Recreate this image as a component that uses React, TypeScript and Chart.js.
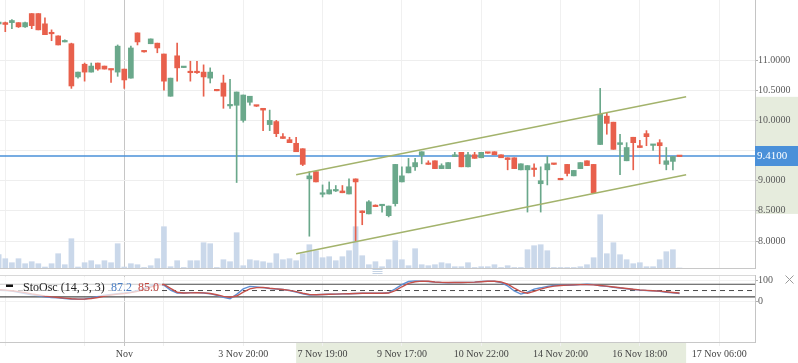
import React, { useEffect, useRef } from 'react';
import { Chart, registerables } from 'chart.js';

Chart.register(...registerables);

// ---------- data (candle index 0 is the partly hidden leftmost candle) ----------
const opens = [
  11.60, 11.62, 11.62, 11.62, 11.55, 11.77, 11.77, 11.60, 11.455, 11.40,
  11.30, 11.27, 10.72, 10.93, 10.80, 10.95, 10.90, 10.85, 10.80, 10.85,
  10.70, 11.45, 11.15, 11.27, 11.28, 11.10, 10.40, 11.07, 10.875, 10.80,
  10.80, 10.80, 10.70, 10.50, 10.62, 10.24, 10.25, 10.00, 10.30, 10.25,
  10.20, 9.93, 9.98, 9.73, 9.68, 9.62, 9.53, 9.03, 9.15, 8.775,
  8.78, 8.83, 8.83, 8.78, 9.03, 8.50, 8.45, 8.585, 8.585, 8.42,
  8.62, 8.98, 9.13, 9.23, 9.42, 9.285, 9.33, 9.20, 9.20, 9.40,
  9.47, 9.23, 9.43, 9.38, 9.467, 9.48, 9.43, 9.38, 9.38, 9.18,
  9.18, 9.20, 8.95, 9.18, 9.285, 9.035, 9.27, 9.08, 9.20, 9.33,
  9.27, 9.60, 10.07, 9.97, 9.60, 9.33, 9.72, 9.58, 9.78, 9.585,
  9.63, 9.27, 9.32, 9.41,
];
const highs = [
  11.66, 11.63, 11.67, 11.62, 11.63, 11.77, 11.77, 11.70, 11.50, 11.40,
  11.335, 11.28, 10.80, 10.95, 10.95, 10.95, 10.90, 10.85, 11.25, 10.85,
  11.23, 11.45, 11.15, 11.35, 11.28, 11.10, 10.70, 11.28, 10.885, 10.98,
  10.98, 10.92, 10.87, 10.50, 10.75, 10.68, 10.47, 10.42, 10.40, 10.25,
  10.20, 10.17, 10.00, 9.78, 9.72, 9.72, 9.53, 9.15, 9.15, 8.93,
  8.98, 8.92, 8.92, 9.03, 9.03, 8.50, 8.67, 8.60, 8.60, 8.58,
  9.27, 9.23, 9.37, 9.37, 9.48, 9.33, 9.33, 9.28, 9.30, 9.47,
  9.47, 9.47, 9.47, 9.47, 9.467, 9.48, 9.43, 9.38, 9.38, 9.28,
  9.25, 9.28, 9.23, 9.40, 9.285, 9.035, 9.27, 9.17, 9.30, 9.33,
  9.27, 10.53, 10.12, 9.97, 9.77, 9.63, 9.72, 9.67, 9.83, 9.60,
  9.68, 9.55, 9.40, 9.41,
];
const lows = [
  11.55, 11.47, 11.52, 11.54, 11.54, 11.52, 11.50, 11.42, 11.32, 11.25,
  11.30, 10.53, 10.70, 10.65, 10.80, 10.83, 10.85, 10.63, 10.73, 10.53,
  10.70, 11.25, 11.13, 11.27, 11.12, 10.50, 10.40, 10.65, 10.875, 10.65,
  10.78, 10.40, 10.62, 10.49, 10.20, 10.20, 8.97, 9.97, 10.25, 10.23,
  9.83, 9.83, 9.73, 9.70, 9.63, 9.48, 9.25, 8.08, 8.98, 8.73,
  8.78, 8.82, 8.80, 8.78, 8.00, 8.27, 8.45, 8.57, 8.48, 8.40,
  8.58, 8.98, 9.13, 9.17, 9.28, 9.27, 9.20, 9.20, 9.20, 9.40,
  9.23, 9.23, 9.37, 9.38, 9.455, 9.43, 9.38, 9.18, 9.20, 9.18,
  8.48, 9.07, 8.48, 8.93, 9.27, 9.015, 9.08, 9.08, 9.20, 9.25,
  8.80, 9.60, 9.77, 9.52, 9.10, 9.33, 9.18, 9.55, 9.58, 9.50,
  9.28, 9.18, 9.18, 9.40,
];
const closes = [
  11.63, 11.59, 11.655, 11.55, 11.62, 11.57, 11.50, 11.42, 11.435, 11.25,
  11.32, 10.57, 10.80, 10.80, 10.90, 10.85, 10.85, 10.835, 11.23, 10.67,
  11.20, 11.30, 11.135, 11.35, 11.20, 10.65, 10.70, 10.87, 10.885, 10.79,
  10.79, 10.72, 10.80, 10.49, 10.40, 10.25, 10.47, 10.42, 10.40, 10.235,
  10.17, 10.00, 9.78, 9.70, 9.63, 9.48, 9.27, 9.08, 8.98, 8.785,
  8.85, 8.835, 8.80, 8.90, 8.98, 8.47, 8.65, 8.57, 8.60, 8.58,
  9.27, 9.08, 9.23, 9.30, 9.48, 9.27, 9.20, 9.25, 9.30, 9.43,
  9.23, 9.43, 9.37, 9.47, 9.455, 9.43, 9.38, 9.35, 9.20, 9.28,
  9.25, 9.185, 9.00, 9.28, 9.27, 9.015, 9.12, 9.17, 9.30, 9.25,
  8.80, 10.10, 9.95, 9.52, 9.63, 9.55, 9.63, 9.55, 9.73, 9.60,
  9.58, 9.33, 9.40, 9.40,
];
const volumes = [
  13.3, 9.3, 5.3, 9.3, 4.3, 6.3, 4.3, 1.0, 4.3, 14.3,
  3.3, 29.3, 1.0, 5.3, 7.3, 3.3, 7.3, 5.3, 24.3, 1.0,
  4.3, 3.3, 0.5, 2.3, 9.3, 41.3, 1.3, 7.3, 0.5, 7.3,
  7.3, 25.3, 24.3, 0.5, 8.3, 6.3, 35.3, 2.3, 8.3, 7.3,
  6.3, 5.0, 14.3, 8.3, 9.3, 7.3, 14.3, 23.3, 17.3, 10.3,
  11.3, 7.3, 11.3, 17.3, 41.3, 12.3, 3.3, 6.3, 1.3, 8.3,
  27.3, 8.3, 2.3, 19.3, 3.3, 2.3, 3.3, 5.3, 4.3, 1.3,
  1.3, 5.3, 0.5, 1.3, 1.3, 3.3, 0.5, 2.3, 0.5, 0.5,
  18.3, 22.3, 23.3, 17.3, 0.5, 0.5, 0.5, 0.5, 1.3, 3.3,
  10.3, 53.3, 14.3, 25.3, 13.3, 8.3, 4.3, 5.3, 1.3, 1.3,
  8.3, 16.3, 18.3, 0,
];
const stochK = [
  52, 50, 47, 42, 36, 30, 25, 20, 17, 15,
  12, 10, 9, 10, 15, 22, 28, 32, 35, 38,
  42, 50, 60, 72, 82, 76, 52, 38, 38, 40,
  40, 38, 35, 27, 18, 11, 32, 58, 70, 67,
  64, 60, 57, 55, 50, 43, 35, 29, 30, 31,
  32, 33, 34, 35, 36, 37, 37, 37, 37, 40,
  58, 78, 93, 96, 95, 93, 90, 88, 87, 88,
  88, 89, 90, 93, 95, 94, 88, 72, 48, 33,
  42, 57, 63, 70, 74, 75, 75, 76, 78, 80,
  78, 72, 70, 66, 62, 58, 55, 52, 50, 49,
  46, 42, 39, 36,
];
const stochD = [
  54, 52, 49, 45, 40, 34, 29, 24, 20, 17,
  14, 11, 9, 9, 12, 17, 24, 29, 33, 36,
  40, 46, 55, 66, 77, 79, 60, 42, 38, 39,
  40, 39, 36, 30, 22, 18, 24, 42, 58, 64,
  65, 61, 58, 55, 51, 45, 37, 31, 30, 31,
  32, 33, 34, 35, 36, 37, 37, 37, 37, 38,
  50, 68, 84, 92, 95, 94, 91, 89, 88, 88,
  88, 89, 90, 92, 94, 94, 91, 80, 62, 45,
  37, 46, 57, 65, 71, 74, 76, 77, 78, 78,
  77, 74, 71, 67, 63, 60, 56, 53, 51, 49,
  47, 44, 41, 38,
];

const xTickPositions = [1, 13, 19, 25, 37, 49, 61, 73, 85, 97, 109];
const xTickLabels = ['', '', 'Nov', '', '3 Nov 20:00', '7 Nov 19:00', '9 Nov 17:00', '10 Nov 22:00', '14 Nov 20:00', '16 Nov 18:00', '17 Nov 06:00'];
const monthTick = 19;
const priceTicks = [8, 8.5, 9, 9.5, 10, 10.5, 11];
const oscTicks = [0, 100];
const oscLevels = [80, 20];
const oscMid = 50;
const lastPrice = 9.41;
const channelX = [45, 104];
const channelUpperY = [9.10, 10.39];
const channelLowerY = [7.79, 9.10];
const axisShadeRange = [8.45, 10.39];
const legendTitle = 'StoOsc (14, 3, 3)';
const legendValues = ['87.2', '85.0'];

// ---------- view settings ----------
const X_MIN = 0.2;
const X_MAX = 114.42;
const FONT = '"Liberation Serif", "Times New Roman", serif';
const GREEN = '#6aa88b';
const RED = '#e8604c';
const SHADE = '#e6ecdd';
const BLUE_LINE = '#4a90d9';
const K_COLOR = '#5e8fd3';
const D_COLOR = '#c4504a';
const CHANNEL = '#a3b36c';
const AXIS_W = 43;

const idx = opens.map((_, i) => i);
const candleColors = idx.map((i) => (closes[i] >= opens[i] ? GREEN : RED));

const xTicksHook = (s: any) => {
  s.ticks = xTickPositions.map((v) => ({ value: v }));
};
const gridColor = (c: any) => (c.tick && c.tick.value === monthTick ? '#c6c6c6' : '#f0f0f0');

const mainDecor = {
  id: 'mainDecor',
  beforeDraw(chart: any) {
    const { ctx, chartArea, scales } = chart;
    const t = scales.y.getPixelForValue(axisShadeRange[1]);
    const b = scales.y.getPixelForValue(axisShadeRange[0]);
    ctx.save();
    ctx.fillStyle = SHADE;
    ctx.fillRect(chartArea.right + 1, t, chart.width - chartArea.right, b - t);
    ctx.restore();
  },
  afterDraw(chart: any) {
    const { ctx, chartArea, scales } = chart;
    const yc = Math.round(scales.y.getPixelForValue(lastPrice));
    ctx.save();
    ctx.fillStyle = BLUE_LINE;
    ctx.fillRect(chartArea.right, yc - 10, chart.width - chartArea.right, 20);
    ctx.fillStyle = '#ffffff';
    ctx.font = `11px ${FONT}`;
    ctx.textAlign = 'left';
    ctx.textBaseline = 'middle';
    ctx.fillText(lastPrice.toFixed(4), chartArea.right + 2, yc + 0.5);
    ctx.restore();
  },
};

const oscDecor = {
  id: 'oscDecor',
  beforeDraw(chart: any) {
    const { ctx, chartArea, scales } = chart;
    const l = scales.x.getPixelForValue(channelX[0]);
    const r = scales.x.getPixelForValue(channelX[1]);
    ctx.save();
    ctx.fillStyle = SHADE;
    ctx.fillRect(l, chartArea.bottom + 1, r - l, chart.height - chartArea.bottom);
    // pane drag handle
    const cx = (chartArea.left + chartArea.right) / 2;
    ctx.strokeStyle = '#c5d3e4';
    ctx.lineWidth = 1;
    [0.5, 2.5, 4.5].forEach((y) => {
      ctx.beginPath();
      ctx.moveTo(cx - 5, y);
      ctx.lineTo(cx + 5, y);
      ctx.stroke();
    });
    ctx.restore();
  },
  afterDraw(chart: any) {
    const { ctx, chartArea } = chart;
    ctx.save();
    // pane top border
    ctx.strokeStyle = '#d8d8d8';
    ctx.lineWidth = 1;
    ctx.beginPath();
    ctx.moveTo(0, chartArea.top + 0.5);
    ctx.lineTo(chartArea.right, chartArea.top + 0.5);
    ctx.stroke();
    // legend
    const ly = chartArea.top;
    ctx.fillStyle = 'rgba(255,255,255,0.72)';
    ctx.fillRect(0, ly + 2, 162, 19);
    ctx.fillStyle = '#111111';
    ctx.fillRect(6, ly + 9.5, 7, 2.5);
    ctx.font = `12px ${FONT}`;
    ctx.textAlign = 'left';
    ctx.textBaseline = 'alphabetic';
    ctx.fillStyle = '#222222';
    ctx.fillText(legendTitle, 23, ly + 15.5);
    ctx.fillStyle = '#4a7ec4';
    ctx.fillText(legendValues[0], 111, ly + 15.5);
    ctx.fillStyle = '#c0453f';
    ctx.fillText(legendValues[1], 138, ly + 15.5);
    // close icon
    ctx.strokeStyle = '#9a9a9a';
    ctx.lineWidth = 1;
    const cx = chart.width - 8.5;
    const cy = ly + 4.5;
    ctx.beginPath();
    ctx.moveTo(cx - 4, cy - 4);
    ctx.lineTo(cx + 4, cy + 4);
    ctx.moveTo(cx + 4, cy - 4);
    ctx.lineTo(cx - 4, cy + 4);
    ctx.stroke();
    ctx.restore();
  },
};

function mainConfig(): any {
  return {
    type: 'bar',
    data: {
      datasets: [
        {
          type: 'bar',
          label: 'Volume',
          data: idx.map((i) => ({ x: i, y: volumes[i] })),
          yAxisID: 'yVol',
          backgroundColor: '#cad8ea',
          barThickness: 5,
          grouped: false,
          order: 10,
        },
        {
          type: 'line',
          label: 'Last',
          data: [
            { x: X_MIN, y: lastPrice },
            { x: X_MAX, y: lastPrice },
          ],
          yAxisID: 'y',
          borderColor: BLUE_LINE,
          borderWidth: 1.5,
          pointRadius: 0,
          order: 8,
        },
        {
          type: 'bar',
          label: 'Wick',
          data: idx.map((i) => ({ x: i, y: [lows[i], highs[i]] })),
          yAxisID: 'y',
          backgroundColor: candleColors,
          barThickness: 1,
          grouped: false,
          order: 3,
        },
        {
          type: 'bar',
          label: 'Body',
          data: idx.map((i) => ({ x: i, y: [Math.min(opens[i], closes[i]), Math.max(opens[i], closes[i])] })),
          yAxisID: 'y',
          backgroundColor: candleColors,
          barThickness: 5,
          minBarLength: 1.5,
          grouped: false,
          order: 2,
        },
        {
          type: 'line',
          label: 'Channel upper',
          data: channelX.map((x, i) => ({ x, y: channelUpperY[i] })),
          yAxisID: 'y',
          borderColor: CHANNEL,
          borderWidth: 1.5,
          pointRadius: 0,
          order: 1,
        },
        {
          type: 'line',
          label: 'Channel lower',
          data: channelX.map((x, i) => ({ x, y: channelLowerY[i] })),
          yAxisID: 'y',
          borderColor: CHANNEL,
          borderWidth: 1.5,
          pointRadius: 0,
          order: 1,
        },
      ],
    },
    options: {
      responsive: false,
      animation: false,
      devicePixelRatio: 1,
      events: [],
      layout: { padding: 0 },
      plugins: { legend: { display: false }, tooltip: { enabled: false } },
      scales: {
        x: {
          type: 'linear',
          min: X_MIN,
          max: X_MAX,
          offset: false,
          grid: { offset: false, color: gridColor, drawTicks: false },
          border: { display: true, color: '#c8c8c8' },
          ticks: { display: false },
          afterBuildTicks: xTicksHook,
          afterFit: (s: any) => {
            s.height = 1;
            s.paddingLeft = 0;
            s.paddingRight = 0;
          },
        },
        y: {
          type: 'linear',
          position: 'right',
          min: 7.553,
          max: 11.995,
          grid: { color: '#eeeeee', tickLength: 3, tickColor: '#b0b0b0' },
          border: { color: '#c4c4c4' },
          ticks: {
            font: { family: FONT, size: 10 },
            color: '#5a5a5a',
            padding: 0,
            callback: (v: any) => Number(v).toFixed(4),
          },
          afterBuildTicks: (s: any) => {
            s.ticks = priceTicks.map((v) => ({ value: v }));
          },
          afterFit: (s: any) => {
            s.width = AXIS_W;
            s.paddingTop = 0;
            s.paddingBottom = 0;
          },
        },
        yVol: { type: 'linear', display: false, min: 0, max: 268 },
      },
    },
    plugins: [mainDecor],
  };
}

function hLine(v: number, dash: number[], width: number) {
  return {
    type: 'line',
    data: [
      { x: X_MIN, y: v },
      { x: X_MAX, y: v },
    ],
    borderColor: '#4a4a4a',
    borderWidth: width,
    borderDash: dash,
    pointRadius: 0,
    order: 5,
  };
}

function oscConfig(): any {
  return {
    type: 'line',
    data: {
      datasets: [
        { label: 'Upper', ...hLine(oscLevels[0], [], 1.2) },
        { label: 'Lower', ...hLine(oscLevels[1], [], 1.2) },
        { label: 'Mid', ...hLine(oscMid, [5, 4], 1) },
        {
          label: '%D',
          data: idx.map((i) => ({ x: i, y: stochD[i] })),
          borderColor: D_COLOR,
          borderWidth: 1.4,
          pointRadius: 0,
          tension: 0,
          order: 2,
        },
        {
          label: '%K',
          data: idx.map((i) => ({ x: i, y: stochK[i] })),
          borderColor: K_COLOR,
          borderWidth: 1.4,
          pointRadius: 0,
          tension: 0,
          order: 3,
        },
      ],
    },
    options: {
      responsive: false,
      animation: false,
      devicePixelRatio: 1,
      events: [],
      layout: { padding: { top: 6, left: 0, right: 0, bottom: 0 } },
      plugins: { legend: { display: false }, tooltip: { enabled: false } },
      scales: {
        x: {
          type: 'linear',
          min: X_MIN,
          max: X_MAX,
          offset: false,
          grid: { offset: false, color: gridColor, tickLength: 4, drawTicks: true },
          border: { display: true, color: '#c8c8c8' },
          ticks: {
            autoSkip: false,
            maxRotation: 0,
            minRotation: 0,
            padding: 2,
            font: { family: FONT, size: 10 },
            color: '#444444',
            callback: (v: any) => {
              const k = xTickPositions.indexOf(Number(v));
              return k >= 0 ? xTickLabels[k] : '';
            },
          },
          afterBuildTicks: xTicksHook,
          afterFit: (s: any) => {
            s.height = 21;
            s.paddingLeft = 0;
            s.paddingRight = 0;
          },
        },
        y: {
          type: 'linear',
          position: 'right',
          min: -195,
          max: 124,
          grid: { color: '#f2f2f2', tickLength: 3, tickColor: '#b0b0b0' },
          border: { color: '#c4c4c4' },
          ticks: {
            font: { family: FONT, size: 10 },
            color: '#5a5a5a',
            padding: 0,
            callback: (v: any) => String(v),
          },
          afterBuildTicks: (s: any) => {
            s.ticks = oscTicks.map((v) => ({ value: v }));
          },
          afterFit: (s: any) => {
            s.width = AXIS_W;
            s.paddingTop = 0;
            s.paddingBottom = 0;
          },
        },
      },
    },
    plugins: [oscDecor],
  };
}

export default function App() {
  const mainRef = useRef<HTMLCanvasElement>(null);
  const oscRef = useRef<HTMLCanvasElement>(null);

  useEffect(() => {
    const main = new Chart(mainRef.current as HTMLCanvasElement, mainConfig());
    const osc = new Chart(oscRef.current as HTMLCanvasElement, oscConfig());
    return () => {
      main.destroy();
      osc.destroy();
    };
  }, []);

  return (
    <div style={{ position: 'fixed', left: 0, top: 0, width: 798, height: 363, background: '#ffffff', overflow: 'hidden' }}>
      <canvas ref={mainRef} width={798} height={269} style={{ position: 'absolute', left: 0, top: 0, display: 'block' }} />
      <canvas ref={oscRef} width={798} height={94} style={{ position: 'absolute', left: 0, top: 269, display: 'block' }} />
    </div>
  );
}
